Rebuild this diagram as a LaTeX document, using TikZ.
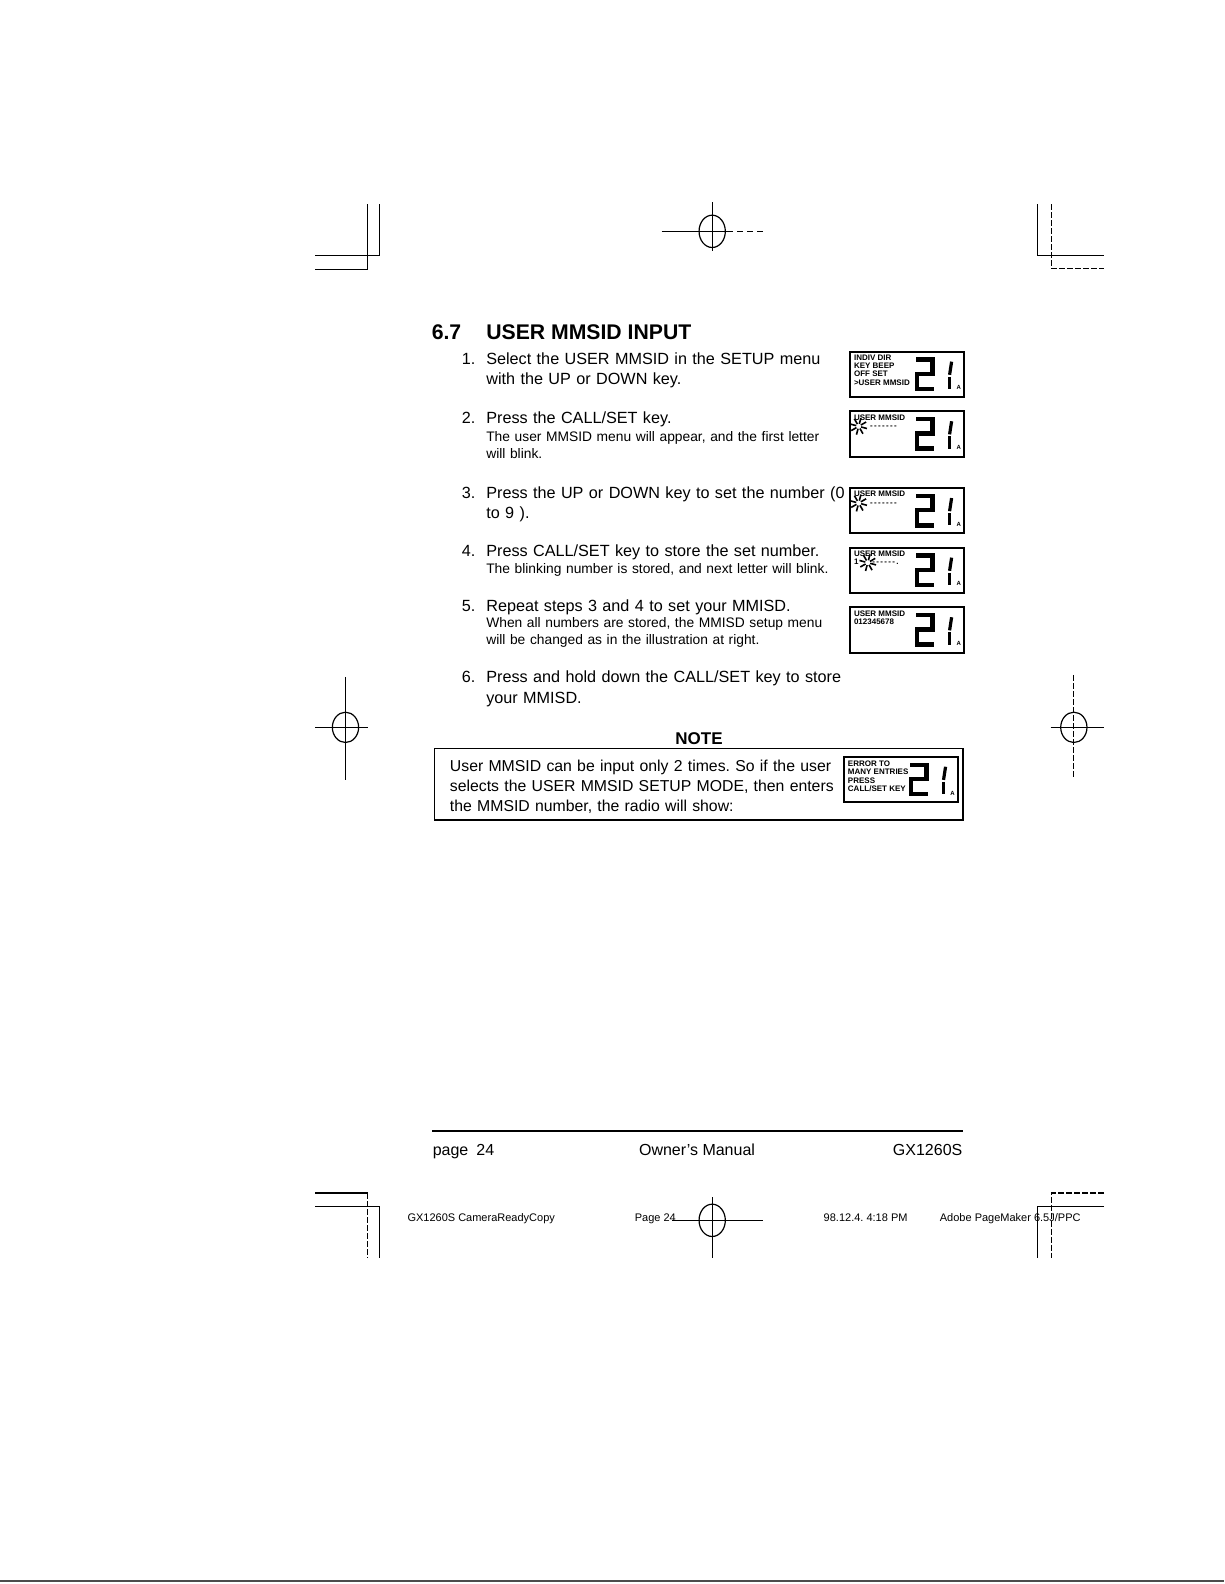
\documentclass[tikz,border=0pt]{standalone}
\usepackage{fontspec}
\setmainfont{Liberation Sans}
\usepackage{tikz}
\frenchspacing

\begin{document}
\begin{tikzpicture}[
	x=0.505pt, y=-0.505pt,
	every node/.style={inner sep=0pt},
	body/.style={anchor=base west, font=\fontsize{8.1}{10.1}\selectfont, text width=230pt, align=left},
	num/.style={anchor=base east, font=\fontsize{8.1}{10.1}\selectfont},
	small/.style={anchor=base west, font=\fontsize{6.9}{8.6}\selectfont, text width=230pt, align=left},
	heading/.style={anchor=base west, font=\fontsize{10.6}{12}\selectfont\bfseries},
	lcd/.style={draw, line width=1pt, minimum width=57pt, minimum height=22.7pt, anchor=north west},
	lcd text/.style={anchor=north west, font=\fontsize{4}{4.1}\selectfont\bfseries, align=left},
	seg/.style={line width=2.2pt},
	regmark/.style={line width=0.6pt},
	footer/.style={anchor=base, font=\fontsize{8}{10}\selectfont},
	slug/.style={anchor=base west, font=\fontsize{5.5}{6}\selectfont},
	blink/.style={line width=0.8pt}
	]
	\useasboundingbox (0,0) rectangle (1212,1568);

	% registration marks, top
	\draw[regmark] (364,202) -- (364,267) -- (312,267);
	\draw[regmark] (376,202) -- (376,253) -- (312,253);
	\draw[regmark] (705,200) -- (705,248);
	\draw[regmark] (655,229) -- (720,229);
	\draw[regmark, dash pattern=on 3pt off 2pt] (720,229) -- (755,229);
	\draw[regmark] (705,229) ellipse (13 and 16);
	\draw[regmark] (1027,202) -- (1027,253) -- (1093,253);
	\draw[regmark, dash pattern=on 3pt off 1pt] (1041,202) -- (1041,266) -- (1093,266);

	% heading and steps
	\node[heading] (secnum) at (427,336) {6.7};
	\node[heading] (title) at (481,336) {USER MMSID INPUT};

	\node[num] (n1) at (471,361) {1.};
	\node[body] (s1) at (481,361) {Select the USER MMSID in the SETUP menu\\with the UP or DOWN key.};
	\node[num] (n2) at (471,419) {2.};
	\node[body] (s2) at (481,419) {Press the CALL/SET key.};
	\node[small] (s2b) at (481,437) {The user MMSID menu will appear, and the first letter\\will blink.};
	\node[num] (n3) at (471,493) {3.};
	\node[body] (s3) at (481,493) {Press the UP or DOWN key to set the number (0\\to 9 ).};
	\node[num] (n4) at (471,551) {4.};
	\node[body] (s4) at (481,551) {Press CALL/SET key to store the set number.};
	\node[small] (s4b) at (481,568) {The blinking number is stored, and next letter will blink.};
	\node[num] (n5) at (471,605) {5.};
	\node[body] (s5) at (481,605) {Repeat steps 3 and 4 to set your MMISD.};
	\node[small] (s5b) at (481,621) {When all numbers are stored, the MMISD setup menu\\will be changed as in the illustration at right.};
	\node[num] (n6) at (471,676) {6.};
	\node[body] (s6) at (481,676) {Press and hold down the CALL/SET key to store\\your MMISD.};

	% lcd windows
	\foreach \x/\y [count=\i] in {840/347, 840/406, 840/482, 840/541, 840/600, 834/748} {
		\begin{scope}[shift={(\x,\y)}]
			\node[lcd] (lcd\i) at (0,0) {};
			\draw[seg] (67,9) -- (83,9) -- (83,23) -- (68,23) -- (68,38) -- (85,38);
			\draw[line width=1.6pt] (102,11) -- (100,24);
			\draw[line width=1.6pt] (100,26) -- (100,38);
			\node[font=\fontsize{3}{3}\selectfont\bfseries] (a\i) at (109,37) {A};
		\end{scope}
	}
	\node[lcd text] (t1) at (845,351) {INDIV DIR\\KEY BEEP\\OFF SET\\>USER MMSID};
	\node[lcd text] (t2) at (845,410) {USER MMSID\\\hspace{8pt}-\,-\,-\,-\,-\,-\,-};
	\node[lcd text] (t3) at (845,486) {USER MMSID\\\hspace{8pt}-\,-\,-\,-\,-\,-\,-};
	\node[lcd text] (t4) at (845,545) {USER MMSID\\1\hspace{7pt}-\,-\,-\,-\,-\,-\,.};
	\node[lcd text] (t5) at (845,604) {USER MMSID\\012345678};
	\node[lcd text] (t6) at (839,753) {ERROR TO\\MANY ENTRIES\\PRESS\\CALL/SET KEY};
	\foreach \sx/\sy in {850/422, 850/498, 859/557}
		\foreach \a in {15,60,105,150,195,240,285,330}
			\draw[blink] (\sx,\sy) ++(\a:2.5) -- ++(\a:6);

	% note
	\node[font=\fontsize{8.5}{10}\selectfont\bfseries, anchor=base] (note) at (692,737) {NOTE};
	\draw[line width=0.8pt] (430,741) rectangle (953,812);
	\node[body, font=\fontsize{7.9}{9.85}\selectfont] (notetext) at (445,764)
		{User MMSID can be input only 2 times. So if the user\\selects the USER MMSID SETUP MODE, then enters\\the MMSID number, the radio will show:};

	% side marks
	\draw[regmark] (342,670) -- (342,772);
	\draw[regmark] (312,720) -- (364,720);
	\draw[regmark] (342,720) ellipse (13 and 15);
	\draw[regmark, dash pattern=on 3pt off 1pt] (1063,668) -- (1063,770);
	\draw[regmark] (1040,720) -- (1093,720);
	\draw[regmark] (1063,720) ellipse (13 and 15);

	% footer
	\draw[line width=1pt] (428,1120) -- (953,1120);
	\node[footer, anchor=base west] (page) at (428,1144) {page\hspace{4pt}24};
	\node[footer] (manual) at (690,1144) {Owner's Manual};
	\node[footer, anchor=base east] (model) at (953,1144) {GX1260S};

	% slug and bottom marks
	\node[slug] (file) at (403,1209) {GX1260S CameraReadyCopy};
	\node[slug] (pg) at (628,1209) {Page 24};
	\node[slug] (date) at (815,1209) {98.12.4. 4:18 PM};
	\node[slug] (app) at (930,1209) {Adobe PageMaker 6.5J/PPC};
	\draw[regmark] (312,1181) -- (364,1181);
	\draw[regmark, dash pattern=on 3pt off 1pt] (364,1181) -- (364,1245);
	\draw[regmark] (312,1194) -- (376,1194) -- (376,1245);
	\draw[regmark] (705,1185) -- (705,1245);
	\draw[regmark] (665,1208) -- (755,1208);
	\draw[regmark] (705,1208) ellipse (13 and 16);
	\draw[regmark, dash pattern=on 3pt off 1pt] (1093,1181) -- (1041,1181) -- (1041,1245);
	\draw[regmark] (1093,1194) -- (1027,1194) -- (1027,1245);

	\draw[line width=1pt, black!70] (0,1565) -- (1212,1565);
\end{tikzpicture}
\end{document}
